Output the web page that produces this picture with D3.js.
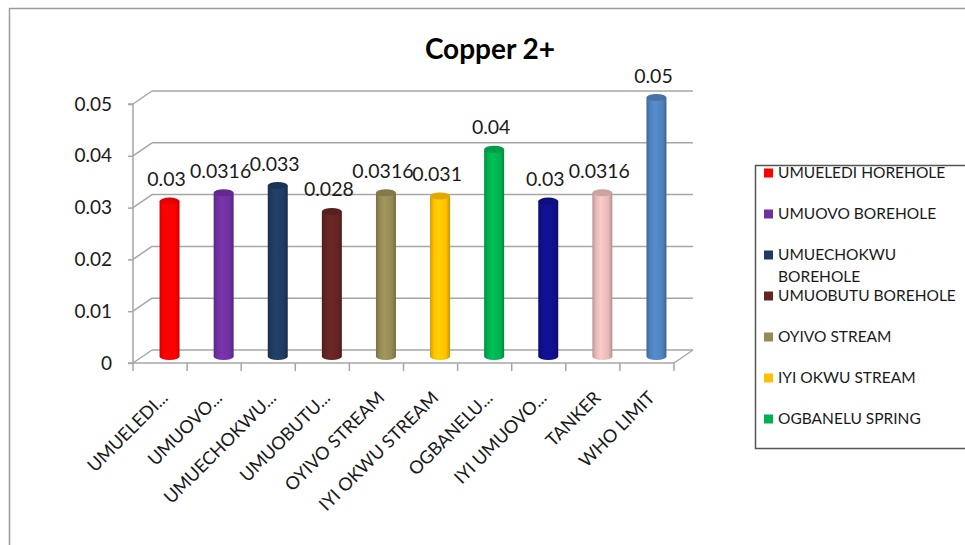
<!DOCTYPE html>
<html>
<head>
<meta charset="utf-8">
<script src="https://cdn.jsdelivr.net/npm/d3@7"></script>
<style>
  html, body { margin: 0; padding: 0; background: #fff; }
  svg { display: block; }
  text { font-family: Lato, "Open Sans", sans-serif; }
</style>
</head>
<body>
<svg id="chart" width="965" height="545"></svg>
<script>
// Copper 2+ concentration per water source
const categories = [
  "UMUELEDI HOREHOLE", "UMUOVO BOREHOLE", "UMUECHOKWU BOREHOLE", "UMUOBUTU BOREHOLE",
  "OYIVO STREAM", "IYI OKWU STREAM", "OGBANELU SPRING", "IYI UMUOVO STREAM",
  "TANKER", "WHO LIMIT"
];
const axisLabels = [
  "UMUELEDI...", "UMUOVO...", "UMUECHOKWU...", "UMUOBUTU...",
  "OYIVO STREAM", "IYI OKWU STREAM", "OGBANELU...", "IYI UMUOVO...",
  "TANKER", "WHO LIMIT"
];
const values = [0.03, 0.0316, 0.033, 0.028, 0.0316, 0.031, 0.04, 0.03, 0.0316, 0.05];
const colors = [
  "#FF0000", "#7030A0", "#1F3B60", "#632523", "#948A54",
  "#FFC000", "#00B050", "#10108C", "#E6B9B8", "#4F81BD"
];
const yTicks = [0, 0.01, 0.02, 0.03, 0.04, 0.05];
const legendCount = 7;

const svg = d3.select("#chart");

// outer chart frame (only top and left edges fall inside the view)
svg.append("path")
  .attr("d", "M9.5,600 L9.5,8.5 L1000,8.5")
  .attr("fill", "none").attr("stroke", "#9a9a9a").attr("stroke-width", 1.5);

// title
svg.append("text")
  .attr("x", 490).attr("y", 59)
  .attr("text-anchor", "middle")
  .attr("font-size", 28).attr("font-weight", "bold").attr("fill", "#000")
  .text("Copper 2+");

// 3D frame geometry
const depth = { dx: 19, dy: -13 };
const x = d3.scaleBand().domain(d3.range(categories.length)).range([133, 674]).padding(0);
const y = d3.scaleLinear().domain([0, 0.05]).range([363, 104]);

const gridColor = "#a6a6a6";
const frame = svg.append("g").attr("fill", "none").attr("stroke", gridColor).attr("stroke-width", 1.5);

// back wall gridlines and side-wall connectors
yTicks.forEach(t => {
  const yy = y(t);
  frame.append("line")
    .attr("x1", x.range()[0] + depth.dx).attr("x2", x.range()[1] + depth.dx)
    .attr("y1", yy + depth.dy).attr("y2", yy + depth.dy);
  frame.append("line")
    .attr("x1", x.range()[0]).attr("y1", yy)
    .attr("x2", x.range()[0] + depth.dx).attr("y2", yy + depth.dy);
});
// floor front edge and right edge
frame.append("line")
  .attr("x1", x.range()[0]).attr("x2", x.range()[1])
  .attr("y1", y(0)).attr("y2", y(0));
frame.append("line")
  .attr("x1", x.range()[1]).attr("y1", y(0))
  .attr("x2", x.range()[1] + depth.dx).attr("y2", y(0) + depth.dy);

// y axis
const yAxis = d3.axisLeft(y).tickValues(yTicks).tickSize(5).tickPadding(16)
  .tickFormat(d => d === 0 ? "0" : d3.format(".2f")(d));
const yG = svg.append("g").attr("transform", `translate(${x.range()[0]},0)`).call(yAxis);
yG.select(".domain").attr("stroke", gridColor).attr("stroke-width", 1.5)
  .attr("d", `M-5,${y(0.05)}H0V${y(0)}H-5`);
yG.selectAll(".tick line").attr("stroke", gridColor).attr("stroke-width", 1.5);
yG.selectAll(".tick text").attr("font-size", 19).attr("fill", "#1a1a1a")
  .attr("font-family", "Lato, sans-serif");

// x axis ticks at band boundaries
const xEdges = d3.range(categories.length + 1).map(i => x.range()[0] + i * x.bandwidth());
svg.append("g").selectAll("line").data(xEdges).join("line")
  .attr("x1", d => d).attr("x2", d => d)
  .attr("y1", y(0)).attr("y2", y(0) + 8)
  .attr("stroke", gridColor).attr("stroke-width", 1.5);

// category labels, rotated
svg.append("g").selectAll("text").data(axisLabels).join("text")
  .attr("transform", (d, i) => `translate(${x(i) + x.bandwidth() / 2 + 9},${399}) rotate(-45)`)
  .attr("text-anchor", "end")
  .attr("font-size", 18).attr("fill", "#1a1a1a")
  .text(d => d);

// cylinder gradients
const defs = svg.append("defs");
colors.forEach((c, i) => {
  const base = d3.color(c);
  const g = defs.append("linearGradient").attr("id", "cyl" + i)
    .attr("x1", "0%").attr("x2", "100%").attr("y1", "0%").attr("y2", "0%");
  [[0, base.darker(0.6)], [0.18, base], [0.42, base.brighter(0.25)], [0.8, base], [1, base.darker(0.7)]]
    .forEach(([o, col]) => g.append("stop").attr("offset", o).attr("stop-color", col.formatHex()));
});

// cylinders sit at mid depth of the plot
const mid = { dx: depth.dx / 2, dy: depth.dy / 2 };
const rx = 10, ry = 3.5;
const bars = svg.append("g").selectAll("g").data(values).join("g");
bars.append("path")
  .attr("d", (v, i) => {
    const cx = x(i) + x.bandwidth() / 2 + mid.dx;
    const top = y(v) + mid.dy, bot = y(0) + mid.dy;
    return `M${cx - rx},${top} L${cx - rx},${bot} A${rx},${ry} 0 0 0 ${cx + rx},${bot} L${cx + rx},${top} Z`;
  })
  .attr("fill", (v, i) => `url(#cyl${i})`);
bars.append("ellipse")
  .attr("cx", (v, i) => x(i) + x.bandwidth() / 2 + mid.dx)
  .attr("cy", v => y(v) + mid.dy)
  .attr("rx", rx).attr("ry", ry)
  .attr("fill", (v, i) => d3.color(colors[i]).darker(0.35).formatHex());

// value labels
bars.append("text")
  .attr("x", (v, i) => x(i) + x.bandwidth() / 2 + mid.dx - 3)
  .attr("y", v => y(v) + mid.dy - 15)
  .attr("text-anchor", "middle")
  .attr("font-size", 19.5).attr("fill", "#1a1a1a")
  .text(v => String(v));

// legend
const legend = svg.append("g");
legend.append("rect")
  .attr("x", 755.5).attr("y", 165.5).attr("width", 260).attr("height", 283)
  .attr("fill", "#fff").attr("stroke", "#555").attr("stroke-width", 1.5);
const maxTextWidth = 965 - 778;
categories.slice(0, legendCount).forEach((name, i) => {
  const cy = 173 + i * 41;
  legend.append("rect")
    .attr("x", 764).attr("y", cy - 4.5).attr("width", 9).attr("height", 9)
    .attr("fill", colors[i]);
  const t = legend.append("text")
    .attr("x", 778).attr("y", cy).attr("dy", "0.35em")
    .attr("font-size", 15.5).attr("fill", "#1a1a1a").text(name);
  if (t.node().getComputedTextLength() > maxTextWidth) {
    const words = name.split(" ");
    t.text(words[0]);
    legend.append("text")
      .attr("x", 778).attr("y", cy + 22).attr("dy", "0.35em")
      .attr("font-size", 15.5).attr("fill", "#1a1a1a").text(words.slice(1).join(" "));
  }
});
</script>
</body>
</html>
